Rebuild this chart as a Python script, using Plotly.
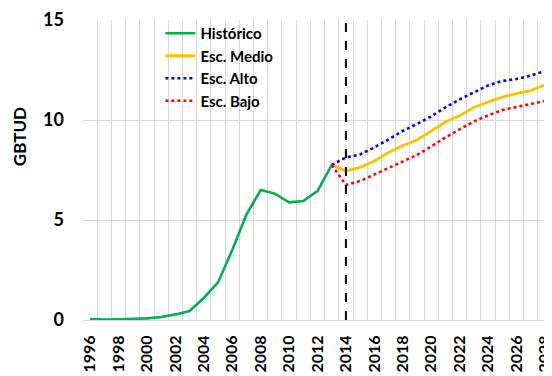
import plotly.graph_objects as go

# data (GBTUD)
years_hist = list(range(1996, 2014))
historico = [0.05, 0.02, 0.03, 0.05, 0.08, 0.15, 0.28, 0.45, 1.1, 1.88,
             3.5, 5.27, 6.5, 6.32, 5.88, 5.95, 6.45, 7.75]

years_esc = list(range(2013, 2029))
esc_medio = [7.75, 7.45, 7.63, 7.95, 8.37, 8.72, 9.0, 9.47, 9.9, 10.22,
             10.63, 10.9, 11.15, 11.32, 11.47, 11.75]
esc_alto = [7.75, 8.13, 8.28, 8.63, 9.03, 9.45, 9.8, 10.18, 10.63, 11.03,
            11.38, 11.73, 11.95, 12.05, 12.22, 12.45]
esc_bajo = [7.75, 6.75, 6.95, 7.28, 7.63, 7.95, 8.25, 8.68, 9.13, 9.53,
            9.93, 10.23, 10.5, 10.65, 10.8, 10.95]

x_ticks = list(range(1996, 2029, 2))
y_ticks = [0, 5, 10, 15]
corte = 2014

GRID = "#d9d9d9"
FONT = "Lato, Calibri, sans-serif"

fig = go.Figure()
fig.add_trace(go.Scatter(x=years_hist, y=historico, mode="lines", name="Histórico",
                         line={"color": "#00b050", "width": 2.6}))
fig.add_trace(go.Scatter(x=years_esc, y=esc_medio, mode="lines", name="Esc. Medio",
                         line={"color": "#ffc000", "width": 2.8}))
fig.add_trace(go.Scatter(x=years_esc, y=esc_alto, mode="lines", name="Esc. Alto",
                         line={"color": "#0000ff", "width": 2.6, "dash": "dot"}))
fig.add_trace(go.Scatter(x=years_esc, y=esc_bajo, mode="lines", name="Esc. Bajo",
                         line={"color": "#ff0000", "width": 2.6, "dash": "dot"}))

fig.add_vline(x=corte, line={"color": "black", "width": 2, "dash": "dash"})

# the page body has an 8px margin, so the figure is 8px smaller each way
fig.update_layout(
    width=544, height=368,
    paper_bgcolor="white", plot_bgcolor="white",
    font={"family": FONT, "size": 16, "color": "black", "weight": "bold"},
    margin={"l": 75, "r": 0, "t": 12, "b": 56},
    showlegend=True,
    legend={"x": 0.165, "y": 1.01, "xanchor": "left", "yanchor": "top",
            "bgcolor": "rgba(0,0,0,0)", "font": {"size": 15, "weight": "bold"},
            "tracegroupgap": 0},
    xaxis={"range": [1995.5, 2028.5], "tickvals": x_ticks, "tickangle": -90,
           "automargin": False, "ticklabeloverflow": "allow",
           "showgrid": False, "zeroline": False, "ticks": "",
           "ticklabelstandoff": 8,
           "showline": True, "linecolor": GRID, "linewidth": 1,
           "minor": {"tickmode": "linear", "tick0": 1995.5, "dtick": 1,
                     "showgrid": True, "gridcolor": GRID, "gridwidth": 1},
           "tickfont": {"size": 16, "weight": "bold"}},
    yaxis={"range": [0, 15], "tickvals": y_ticks, "showgrid": True,
           "automargin": False,
           "gridcolor": GRID, "gridwidth": 1, "zeroline": False, "ticks": "",
           "ticklabelstandoff": 18,
           "tickfont": {"size": 18, "weight": "bold"}},
    annotations=[{"text": "GBTUD", "textangle": -90, "showarrow": False,
                  "xref": "paper", "yref": "paper",
                  "x": -0.136, "y": 0.61, "xanchor": "center", "yanchor": "middle",
                  "font": {"size": 17, "weight": "bold"}}],
)

fig.write_html("out.html")
